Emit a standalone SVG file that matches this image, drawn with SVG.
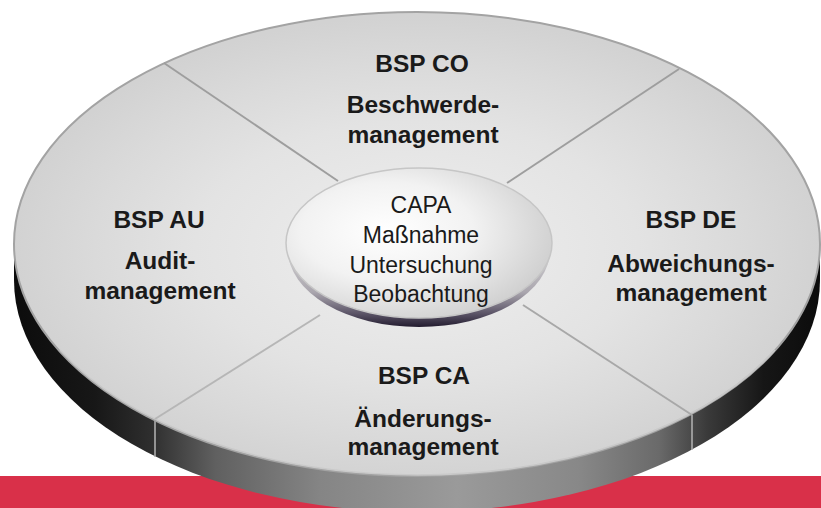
<svg xmlns="http://www.w3.org/2000/svg" width="821" height="508" viewBox="0 0 821 508">
<defs>
<linearGradient id="rim" gradientUnits="userSpaceOnUse" x1="14" y1="0" x2="820" y2="0">
<stop offset="0" stop-color="#0c0c0c"/>
<stop offset="0.1" stop-color="#171717"/>
<stop offset="0.17" stop-color="#2e2e2e"/>
<stop offset="0.25" stop-color="#606060"/>
<stop offset="0.38" stop-color="#858585"/>
<stop offset="0.55" stop-color="#9a9a9a"/>
<stop offset="0.7" stop-color="#888888"/>
<stop offset="0.8" stop-color="#6a6a6a"/>
<stop offset="0.86" stop-color="#3a3a3a"/>
<stop offset="0.93" stop-color="#161616"/>
<stop offset="1" stop-color="#0c0c0c"/>
</linearGradient>
<radialGradient id="face" gradientUnits="userSpaceOnUse" cx="417" cy="250" r="403" gradientTransform="translate(0 250) scale(1 0.58) translate(0 -250)">
<stop offset="0" stop-color="#efefef"/>
<stop offset="0.55" stop-color="#e3e3e3"/>
<stop offset="0.8" stop-color="#dadada"/>
<stop offset="1" stop-color="#d2d2d2"/>
</radialGradient>
<linearGradient id="hubRim" gradientUnits="userSpaceOnUse" x1="0" y1="240" x2="0" y2="327">
<stop offset="0" stop-color="#dcdcdc"/>
<stop offset="0.6" stop-color="#aaa6ae"/>
<stop offset="0.85" stop-color="#5a5366"/>
<stop offset="1" stop-color="#231c2f"/>
</linearGradient>
<radialGradient id="hubFace" cx="0.38" cy="0.42" r="0.65">
<stop offset="0" stop-color="#ffffff"/>
<stop offset="0.5" stop-color="#f2f2f2"/>
<stop offset="1" stop-color="#cfcfcf"/>
</radialGradient>
<style>
.lbl{font-family:"Liberation Sans",Arial,Helvetica,sans-serif;font-weight:bold;font-size:24.5px;fill:#1a1a1a;text-anchor:middle}
.hub{font-family:"Liberation Sans",Arial,Helvetica,sans-serif;font-size:23px;fill:#1a1a1a;text-anchor:middle}
.div{stroke-width:2;fill:none}
</style>
</defs>
<rect x="0" y="0" width="821" height="508" fill="#ffffff"/>
<rect x="0" y="476" width="821" height="32" fill="#d93049"/>
<g id="disk">
<path d="M14,244 L14,280 A403,232 0 0 0 820,280 L820,244 Z" fill="url(#rim)"/>
<line x1="155" y1="419" x2="155" y2="457" stroke="#b4b4b4" stroke-width="1.5"/>
<line x1="692" y1="415" x2="692" y2="450" stroke="#b4b4b4" stroke-width="1.5"/>
<ellipse cx="417" cy="244" rx="403" ry="232" fill="url(#face)" stroke="#a3a3a3" stroke-width="2"/>
<path d="M60,350 A403,232 0 0 0 775,350" fill="none" stroke="#c9c9c9" stroke-width="1.5"/>
</g>
<g id="connectors">
<line class="div" x1="164" y1="63" x2="338" y2="181" stroke="#9e9e9e"/>
<line class="div" x1="679" y1="69" x2="507" y2="183" stroke="#9e9e9e"/>
<line class="div" x1="155" y1="419" x2="320" y2="315" stroke="#b6b6b6"/>
<line class="div" x1="692" y1="415" x2="523" y2="305" stroke="#a8a8a8"/>
</g>
<g id="hub">
<ellipse cx="419" cy="250" rx="131" ry="77" fill="url(#hubRim)"/>
<ellipse cx="419" cy="243" rx="133" ry="75" fill="url(#hubFace)" stroke="#c6c6c6" stroke-width="1.5"/>
<text class="hub" x="421" y="213">CAPA</text>
<text class="hub" x="421" y="243">Maßnahme</text>
<text class="hub" x="421" y="273">Untersuchung</text>
<text class="hub" x="421" y="302">Beobachtung</text>
</g>
<g id="bsp-co">
<text class="lbl" x="422" y="72">BSP CO</text>
<text class="lbl" x="423" y="113">Beschwerde-</text>
<text class="lbl" x="423" y="143">management</text>
</g>
<g id="bsp-au">
<text class="lbl" x="159" y="228">BSP AU</text>
<text class="lbl" x="160" y="269">Audit-</text>
<text class="lbl" x="160" y="299">management</text>
</g>
<g id="bsp-de">
<text class="lbl" x="691" y="228">BSP DE</text>
<text class="lbl" x="691" y="272">Abweichungs-</text>
<text class="lbl" x="691" y="301">management</text>
</g>
<g id="bsp-ca">
<text class="lbl" x="424" y="384">BSP CA</text>
<text class="lbl" x="423" y="427">Änderungs-</text>
<text class="lbl" x="423" y="455">management</text>
</g>
</svg>
